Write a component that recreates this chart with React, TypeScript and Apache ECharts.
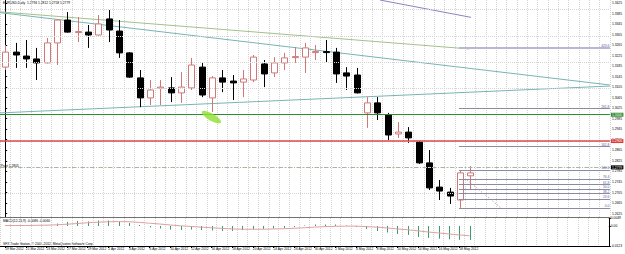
import React, { useEffect, useRef } from 'react';
import * as echarts from 'echarts';

const TITLE = 'EURUSD,Daily  1.2794 1.2812 1.2758 1.2779';
const MACD_TITLE = 'MACD(12,26,9) -0.0086 -0.0060';
const COPYRIGHT = 'SFX Trade Station, \u00A9 2001-2012, MetaQuotes Software Corp.';

const DATES = [
  '19 Mar 2012', '20 Mar 2012', '21 Mar 2012', '22 Mar 2012', '23 Mar 2012',
  '26 Mar 2012', '27 Mar 2012', '28 Mar 2012', '29 Mar 2012', '30 Mar 2012',
  '2 Apr 2012', '3 Apr 2012', '4 Apr 2012', '5 Apr 2012', '6 Apr 2012',
  '9 Apr 2012', '10 Apr 2012', '11 Apr 2012', '12 Apr 2012', '13 Apr 2012',
  '16 Apr 2012', '17 Apr 2012', '18 Apr 2012', '19 Apr 2012', '20 Apr 2012',
  '23 Apr 2012', '24 Apr 2012', '25 Apr 2012', '26 Apr 2012', '27 Apr 2012',
  '30 Apr 2012', '1 May 2012', '2 May 2012', '3 May 2012', '4 May 2012',
  '7 May 2012', '8 May 2012', '9 May 2012', '10 May 2012', '11 May 2012',
  '14 May 2012', '15 May 2012', '16 May 2012', '17 May 2012', '18 May 2012',
  '21 May 2012',
];

const OPEN = [
  1.3181, 1.3238, 1.3223, 1.3212, 1.3197, 1.3273, 1.3360, 1.3314, 1.3314, 1.3303,
  1.3364, 1.3318, 1.3235, 1.3140, 1.3064, 1.3102, 1.3102, 1.3083, 1.3102, 1.3181,
  1.3064, 1.3140, 1.3128, 1.3124, 1.3132, 1.3193, 1.3159, 1.3197, 1.3219, 1.3219,
  1.3238, 1.3240, 1.3238, 1.3159, 1.3151, 1.3007, 1.3045, 1.2999, 1.2927, 1.2934,
  1.2896, 1.2817, 1.2725, 1.2706, 1.2676, 1.2768,
];
const CLOSE = [
  1.3238, 1.3227, 1.3212, 1.3197, 1.3273, 1.3360, 1.3314, 1.3316, 1.3303, 1.3345,
  1.3322, 1.3235, 1.3143, 1.3064, 1.3094, 1.3105, 1.3083, 1.3105, 1.3189, 1.3075,
  1.3140, 1.3124, 1.3121, 1.3136, 1.3219, 1.3155, 1.3197, 1.3216, 1.3221, 1.3254,
  1.3240, 1.3238, 1.3155, 1.3147, 1.3083, 1.3045, 1.3007, 1.2923, 1.2934, 1.2912,
  1.2817, 1.2722, 1.2710, 1.2691, 1.2779, 1.2779,
];
const LOW = [
  1.3170, 1.3178, 1.3178, 1.3132, 1.3195, 1.3189, 1.3312, 1.3276, 1.3254, 1.3301,
  1.3276, 1.3216, 1.3140, 1.3029, 1.3037, 1.3037, 1.3048, 1.3045, 1.3094, 1.3067,
  1.3010, 1.3086, 1.3056, 1.3067, 1.3124, 1.3105, 1.3143, 1.3170, 1.3197, 1.3159,
  1.3208, 1.3200, 1.3121, 1.3094, 1.3081, 1.2950, 1.2980, 1.2904, 1.2912, 1.2893,
  1.2813, 1.2714, 1.2676, 1.2661, 1.2646, 1.2714,
];
const HIGH = [
  1.3265, 1.3273, 1.3284, 1.3254, 1.3292, 1.3362, 1.3390, 1.3371, 1.3341, 1.3379,
  1.3398, 1.3360, 1.3238, 1.3170, 1.3132, 1.3132, 1.3143, 1.3162, 1.3216, 1.3200,
  1.3147, 1.3170, 1.3151, 1.3170, 1.3227, 1.3208, 1.3219, 1.3235, 1.3257, 1.3273,
  1.3265, 1.3284, 1.3254, 1.3181, 1.3178, 1.3067, 1.3067, 1.3007, 1.2972, 1.2953,
  1.2900, 1.2866, 1.2752, 1.2722, 1.2790, 1.2805,
];

const MACD_HIST = [
  0.0003, 0.0002, 0.0001, 0.0000, 0.0003, 0.0015, 0.0025, 0.0031, 0.0028, 0.0034,
  0.0034, 0.0028, 0.0018, 0.0006, -0.0009, -0.0015, -0.0022, -0.0025, -0.0022, -0.0025,
  -0.0028, -0.0031, -0.0031, -0.0025, -0.0022, -0.0018, -0.0015, -0.0012, -0.0006, 0.0003,
  0.0009, 0.0009, 0.0009, 0.0003, -0.0006, -0.0018, -0.0031, -0.0040, -0.0049, -0.0055,
  -0.0068, -0.0074, -0.0078, -0.0082, -0.0085, -0.0086,
];
const MACD_SIGNAL = [
  0.0003, 0.0003, 0.0003, 0.0004, 0.0005, 0.0007, 0.0011, 0.0015, 0.0020, 0.0023,
  0.0026, 0.0027, 0.0026, 0.0022, 0.0017, 0.0012, 0.0006, 0.0001, -0.0003, -0.0007,
  -0.0011, -0.0015, -0.0018, -0.0020, -0.0020, -0.0020, -0.0018, -0.0017, -0.0014, -0.0011,
  -0.0007, -0.0004, -0.0002, -0.0001, -0.0001, -0.0004, -0.0007, -0.0012, -0.0018, -0.0023,
  -0.0030, -0.0037, -0.0043, -0.0049, -0.0055, -0.0060,
];

const PRICE_TICKS = [
  1.3425, 1.3385, 1.3345, 1.3305, 1.3265, 1.3225, 1.3185, 1.3145, 1.3105, 1.3065,
  1.3025, 1.2985, 1.2945, 1.2905, 1.2865, 1.2825, 1.2785, 1.2745, 1.2705, 1.2665, 1.2625,
];
const MACD_TICKS = [0.0049, 0, -0.0123];

const LEVEL_GREEN = 1.3;
const LEVEL_RED = [1.29, 1.264];
const LAST_CLOSE = 1.2779;
const PIVOT = 1.2805;
const FIB_LEVELS = [0, 23.6, 38.2, 50, 61.8, 76.4, 100, 161.8, 261.8, 423.6];
const FIB_LOW = 1.2646;
const FIB_HIGH = 1.279;
const FIB_START = 43.9;

const PURPLE_LINE = [[36.25, 1.3436], [45.07, 1.337]];
const OLIVE_LINE = [[-0.5, 1.3391], [44.9, 1.325]];
const TEAL_DOWN_LINE = [[-0.5, 1.3388], [58.5, 1.3113]];
const TEAL_UP_LINE = [[-0.5, 1.3007], [58.5, 1.3109]];
const FIB_TREND_LINE = [[44.69, 1.2752], [47.95, 1.2646]];
const MARKER = [[19.95, 1.2991]];

const N_SLOTS = 59;
const PMIN = 1.26114;
const PMAX = 1.3436;
const MACD_MIN = -0.0123;
const MACD_MAX = 0.0049;

const FONT = 'Liberation Sans, Arial, sans-serif';
const FS = 3.3;
const BULL = '#d07878';
const BEAR = '#000000';
const GRID_COLOR = '#d4d4d4';

export default function App() {
  const ref = useRef<HTMLDivElement>(null);
  useEffect(() => {
    const chart = echarts.init(ref.current!, null, { renderer: 'svg' });
    const cats = Array.from({ length: N_SLOTS }, (_, i) => DATES[i] ?? `slot${i}`);
    const candles = OPEN.map((o, i) => [i, o, CLOSE[i], LOW[i], HIGH[i]]);
    const hist = MACD_HIST.map((v, i) => [i, v]);
    const xEnd = N_SLOTS - 0.5;
    const labelInterval = (idx: number) => idx % 2 === 0 && idx < DATES.length;

    const boxLabel = (text: string, bg: string) => ({
      show: true,
      position: 'end',
      formatter: text,
      color: '#fff',
      backgroundColor: bg,
      fontSize: FS,
      fontFamily: FONT,
      padding: [0.6, 1.2, 0.4, 1.2],
      distance: 1,
    });

    const fibLines = FIB_LEVELS.map((r) => {
      const v = FIB_LOW + (r / 100) * (FIB_HIGH - FIB_LOW);
      const thick = r === 423.6;
      return [
        {
          coord: [FIB_START, v],
          lineStyle: { color: thick ? '#b8b8d0' : '#8a8aa0', width: thick ? 2 : 1, type: 'solid' },
          label: {
            show: true,
            position: 'insideEndTop',
            formatter: r.toFixed(1),
            color: '#5a5aa0',
            fontSize: FS,
            fontFamily: FONT,
            distance: 0.5,
          },
        },
        { coord: [xEnd, v] },
      ];
    });

    const option: any = {
      animation: false,
      backgroundColor: '#ffffff',
      textStyle: { fontFamily: FONT },
      grid: [
        { left: -3.25, right: 13, top: 0, height: 217 },
        { left: -3.25, right: 13, top: 218, height: 28 },
      ],
      xAxis: [
        {
          type: 'category', gridIndex: 0, data: cats, boundaryGap: true,
          axisLine: { show: true, onZero: false, lineStyle: { color: '#707070', width: 1 } },
          axisTick: { show: false }, axisLabel: { show: false },
          splitLine: { show: true, interval: 0, lineStyle: { color: GRID_COLOR, type: 'dotted', width: 1 } },
        },
        { type: 'value', gridIndex: 0, min: -0.5, max: xEnd, show: false },
        {
          type: 'category', gridIndex: 1, data: cats, boundaryGap: true,
          axisLine: { show: true, onZero: false, lineStyle: { color: '#000', width: 1 } },
          axisTick: { show: true, interval: labelInterval, alignWithLabel: true, length: 2, lineStyle: { color: '#000' } },
          axisLabel: {
            show: true, interval: labelInterval, align: 'left', fontSize: FS, color: '#000',
            fontFamily: FONT, margin: 1.5,
          },
          splitLine: { show: true, interval: 0, lineStyle: { color: GRID_COLOR, type: 'dotted', width: 1 } },
        },
      ],
      yAxis: [
        {
          type: 'value', gridIndex: 0, position: 'right', min: PMIN, max: PMAX,
          axisLine: { show: true, lineStyle: { color: '#000', width: 1 } },
          axisTick: { show: true, length: 2, customValues: PRICE_TICKS, lineStyle: { color: '#000' } },
          axisLabel: {
            show: true, customValues: PRICE_TICKS, formatter: (v: number) => v.toFixed(4),
            fontSize: FS, color: '#000', fontFamily: FONT, margin: 2,
          },
          splitLine: { show: false },
        },
        {
          type: 'value', gridIndex: 1, position: 'right', min: MACD_MIN, max: MACD_MAX,
          axisLine: { show: true, lineStyle: { color: '#000', width: 1 } },
          axisTick: { show: true, length: 2, customValues: MACD_TICKS, lineStyle: { color: '#000' } },
          axisLabel: {
            show: true, customValues: MACD_TICKS,
            formatter: (v: number) => (v === 0 ? '0.00' : v.toFixed(4)),
            fontSize: FS, color: '#000', fontFamily: FONT, margin: 2,
          },
          splitLine: { show: false },
        },
      ],
      graphic: [
        { type: 'text', left: 3, top: 1.5, style: { text: TITLE, fontSize: FS, fill: '#000', fontFamily: FONT } },
        { type: 'text', left: 3, top: 219, style: { text: MACD_TITLE, fontSize: FS, fill: '#000', fontFamily: FONT } },
        { type: 'text', left: 3, top: 242, style: { text: COPYRIGHT, fontSize: FS, fill: '#000', fontFamily: FONT } },
      ],
      series: [
        {
          type: 'line', xAxisIndex: 1, yAxisIndex: 0, data: [[-0.5, PMIN]], showSymbol: false,
          lineStyle: { opacity: 0 }, silent: true, z: 1,
          markLine: {
            silent: true, symbol: ['none', 'none'], animation: false, label: { show: false },
            lineStyle: { color: GRID_COLOR, type: 'dotted', width: 1 },
            data: PRICE_TICKS.map((v) => ({ yAxis: v })),
          },
        },
        {
          type: 'custom', xAxisIndex: 0, yAxisIndex: 0, data: candles, clip: true, z: 3,
          encode: { x: 0, y: [1, 2, 3, 4] },
          renderItem: (params: any, api: any) => {
            const x = api.value(0);
            const o = api.value(1), c = api.value(2), l = api.value(3), h = api.value(4);
            const po = api.coord([x, o]), pc = api.coord([x, c]);
            const pl = api.coord([x, l]), ph = api.coord([x, h]);
            const bull = c >= o;
            const color = bull ? BULL : BEAR;
            const w = 6;
            const top = Math.min(po[1], pc[1]);
            const hgt = Math.max(Math.abs(po[1] - pc[1]), 1);
            const cx = Math.round(po[0]) + 0.5;
            return {
              type: 'group',
              children: [
                { type: 'line', shape: { x1: cx, y1: ph[1], x2: cx, y2: top }, style: { stroke: color, lineWidth: 1 } },
                { type: 'line', shape: { x1: cx, y1: top + hgt, x2: cx, y2: pl[1] }, style: { stroke: color, lineWidth: 1 } },
                {
                  type: 'rect', shape: { x: cx - w / 2, y: top, width: w, height: hgt },
                  style: { fill: bull ? '#ffffff' : BEAR, stroke: color, lineWidth: 1 },
                },
              ],
            };
          },
        },
        { type: 'line', xAxisIndex: 1, yAxisIndex: 0, data: PURPLE_LINE, showSymbol: false, silent: true, z: 2, lineStyle: { color: '#8c80c4', width: 1 } },
        { type: 'line', xAxisIndex: 1, yAxisIndex: 0, data: OLIVE_LINE, showSymbol: false, silent: true, z: 2, lineStyle: { color: '#a4c08c', width: 1 } },
        { type: 'line', xAxisIndex: 1, yAxisIndex: 0, data: TEAL_DOWN_LINE, showSymbol: false, silent: true, z: 2, lineStyle: { color: '#78b4b4', width: 1 } },
        { type: 'line', xAxisIndex: 1, yAxisIndex: 0, data: TEAL_UP_LINE, showSymbol: false, silent: true, z: 2, lineStyle: { color: '#78b4b4', width: 1 } },
        {
          type: 'line', xAxisIndex: 1, yAxisIndex: 0, data: FIB_TREND_LINE, showSymbol: false, silent: true, z: 2,
          lineStyle: { color: '#c87878', width: 1, type: [1, 2] },
        },
        {
          type: 'line', xAxisIndex: 1, yAxisIndex: 0, data: [[-0.5, PMIN]], showSymbol: false,
          lineStyle: { opacity: 0 }, silent: true, z: 4,
          markLine: {
            silent: true, symbol: ['none', 'none'], animation: false,
            data: [
              ...fibLines,
              {
                yAxis: PIVOT,
                lineStyle: { color: '#a8b8a0', width: 1, type: [4, 2, 1, 2] },
                label: {
                  show: true, position: 'insideStartTop', formatter: `Pivot ${PIVOT.toFixed(4)}`,
                  color: '#000', fontSize: FS, fontFamily: FONT, distance: 0.5,
                },
              },
              { yAxis: LEVEL_GREEN, lineStyle: { color: '#2e8b2e', width: 1.2, type: 'solid' }, label: boxLabel(LEVEL_GREEN.toFixed(4), '#2e8b2e') },
              ...LEVEL_RED.map((v) => ({
                yAxis: v, lineStyle: { color: '#e04848', width: 1.5, type: 'solid' }, label: boxLabel(v.toFixed(4), '#e03c3c'),
              })),
              { yAxis: LAST_CLOSE, lineStyle: { color: 'rgba(0,0,0,0)', width: 0 }, label: boxLabel(LAST_CLOSE.toFixed(4), '#000000') },
            ],
          },
        },
        {
          type: 'scatter', xAxisIndex: 1, yAxisIndex: 0, data: MARKER, symbol: 'circle',
          symbolSize: [22, 7], symbolRotate: -30, silent: true, z: 5,
          itemStyle: { color: '#8ee030' },
        },
        {
          type: 'custom', xAxisIndex: 2, yAxisIndex: 1, data: hist, clip: true, z: 2,
          encode: { x: 0, y: 1 },
          renderItem: (params: any, api: any) => {
            const i = api.value(0), v = api.value(1);
            const p0 = api.coord([i, 0]), p1 = api.coord([i, v]);
            const cx = Math.round(p0[0]) + 0.5;
            return {
              type: 'line', shape: { x1: cx, y1: p0[1], x2: cx, y2: p1[1] },
              style: { stroke: '#3c9a70', lineWidth: 1 },
            };
          },
        },
        {
          type: 'line', xAxisIndex: 2, yAxisIndex: 1, data: MACD_SIGNAL, showSymbol: false, silent: true, z: 3,
          lineStyle: { color: '#e0a0a0', width: 1 },
        },
      ],
    };
    chart.setOption(option);
    return () => chart.dispose();
  }, []);
  return (
    <div
      ref={ref}
      style={{ position: 'fixed', left: 0, top: 0, width: 625, height: 254, background: '#fff' }}
    />
  );
}
